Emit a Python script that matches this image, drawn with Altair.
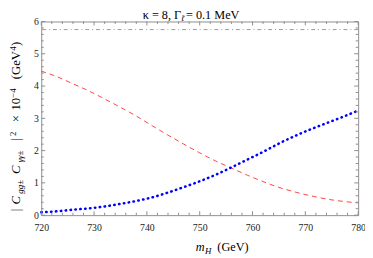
import altair as alt
import pandas as pd

# ---------------- data ----------------
m_h = [720, 723, 726, 729, 732, 735, 738, 741, 744, 747, 750,
       753, 756, 759, 762, 765, 768, 771, 774, 777, 780]
red_vals = [4.46, 4.29, 4.07, 3.85, 3.60, 3.34, 3.07, 2.77, 2.48, 2.20, 1.93,
            1.68, 1.46, 1.24, 1.04, 0.86, 0.72, 0.60, 0.50, 0.43, 0.38]
blue_vals = [0.09, 0.12, 0.17, 0.21, 0.27, 0.35, 0.44, 0.55, 0.70, 0.87, 1.05,
             1.25, 1.48, 1.72, 1.96, 2.22, 2.45, 2.66, 2.85, 3.04, 3.24]
gray_level = [5.75]

x_major = [720, 730, 740, 750, 760, 770, 780]
x_minor = [722, 724, 726, 728, 732, 734, 736, 738, 742, 744, 746, 748,
           752, 754, 756, 758, 762, 764, 766, 768, 772, 774, 776, 778]
y_major = [0, 1, 2, 3, 4, 5, 6]
y_minor = [0.2, 0.4, 0.6, 0.8, 1.2, 1.4, 1.6, 1.8, 2.2, 2.4, 2.6, 2.8,
           3.2, 3.4, 3.6, 3.8, 4.2, 4.4, 4.6, 4.8, 5.2, 5.4, 5.6, 5.8]

title_parts = ["κ = 8, Γ", "t̃", " = 0.1 MeV"]
xtitle_parts = ["m", "H", "(GeV)"]
ytitle_parts = ["|", "C", "gg±", "C", "γγ±", "|", "2", "×", "10", "−4", "(GeV", "4", ")"]

# ---------------- layout ----------------
W, H = 324, 198
SERIF = "Liberation Serif"
FRAME = "#8c8c8c"

df = pd.DataFrame({"m": m_h, "red": red_vals, "blue": blue_vals})

xs = alt.Scale(domain=[720, 780], nice=False, zero=False)
ys = alt.Scale(domain=[0, 6], nice=False, zero=False)

base = alt.Chart(df)

x_axis = alt.Axis(values=x_major, labelFont=SERIF, labelFontSize=10, labelColor="#222",
                  ticks=False, tickSize=0, domain=False, grid=False, title=None,
                  labelPadding=8, labelFlush=False, labelOverlap=False, format="d")
y_axis = alt.Axis(values=y_major, labelFont=SERIF, labelFontSize=10, labelColor="#222",
                  ticks=False, tickSize=0, domain=False, grid=False, title=None,
                  labelPadding=3, labelFlush=False, labelOverlap=False,
                  labelBaseline="middle", format="d")

red = base.mark_line(color="#ff2020", strokeWidth=1, strokeDash=[5, 4], opacity=0.85,
                     interpolate="monotone").encode(
    x=alt.X("m:Q", scale=xs, axis=x_axis),
    y=alt.Y("red:Q", scale=ys, axis=y_axis),
)
blue = base.mark_line(color="#0000ff", strokeWidth=2.6, strokeDash=[0.5, 4.5], strokeCap="round",
                      interpolate="monotone").encode(
    x=alt.X("m:Q", scale=xs, axis=x_axis),
    y=alt.Y("blue:Q", scale=ys, axis=y_axis),
)
gray = alt.Chart(pd.DataFrame({"v": gray_level})).mark_rule(
    color="#9a9a9a", strokeWidth=1, strokeDash=[4, 3, 1, 3]).encode(
    y=alt.Y("v:Q", scale=ys, axis=y_axis),
)


def xticks(vals, length):
    d = alt.Chart(pd.DataFrame({"v": vals}))
    b = d.mark_rule(color=FRAME, strokeWidth=1).encode(
        x=alt.X("v:Q", scale=xs, axis=x_axis), y=alt.value(H), y2=alt.value(H - length))
    t = d.mark_rule(color=FRAME, strokeWidth=1).encode(
        x=alt.X("v:Q", scale=xs, axis=x_axis), y=alt.value(0), y2=alt.value(length))
    return [b, t]


def yticks(vals, length):
    d = alt.Chart(pd.DataFrame({"v": vals}))
    l = d.mark_rule(color=FRAME, strokeWidth=1).encode(
        y=alt.Y("v:Q", scale=ys, axis=y_axis), x=alt.value(0), x2=alt.value(length))
    r = d.mark_rule(color=FRAME, strokeWidth=1).encode(
        y=alt.Y("v:Q", scale=ys, axis=y_axis), x=alt.value(W), x2=alt.value(W - length))
    return [l, r]


def txt(s, x, y, size, italic=False, angle=0, align="left"):
    return alt.Chart(pd.DataFrame({"t": [s]})).mark_text(
        font=SERIF, fontSize=size, fontStyle="italic" if italic else "normal",
        angle=angle, align=align, baseline="alphabetic", color="black").encode(
        x=alt.value(x), y=alt.value(y), text="t:N")


texts = []
# top title
texts.append(txt(title_parts[0], 143, -3, 12.5, align="right"))
texts.append(txt(title_parts[1], 143.5, 0, 9, italic=True))
texts.append(txt(title_parts[2], 148, -3, 12.5))
# x title
texts.append(txt(xtitle_parts[0], 158, 235, 12.5, italic=True))
texts.append(txt(xtitle_parts[1], 167.5, 238, 9, italic=True))
texts.append(txt(xtitle_parts[2], 180, 235, 12.5))

# y title (rotated); (start y in plot coords, baseline x, size, italic)
ypos = [(194, -22, 13, False), (187, -22, 13, True), (176, -19, 9, True),
        (156, -22, 13, True), (144, -19, 9, True), (122, -22, 13, False),
        (117, -26, 9, False), (103, -22, 13, False), (91, -22, 13, False),
        (78, -26, 9, False), (59, -22, 13, False), (30, -26, 9, False),
        (25, -22, 13, False)]
for s, (yy, xx, sz, it) in zip(ytitle_parts, ypos):
    texts.append(txt(s, xx, yy, sz, italic=it, angle=270))

layers = [gray, red, blue]
layers += xticks(x_major, 4) + xticks(x_minor, 2.5)
layers += yticks(y_major, 4) + yticks(y_minor, 2.5)
layers += texts

chart = alt.layer(*layers).properties(
    width=W, height=H,
    autosize=alt.AutoSizeParams(type="none"),
    padding={"left": 34, "top": 11, "right": 7, "bottom": 41},
).configure_view(stroke=FRAME, strokeWidth=1)

chart.save("out.html", embed_options={"renderer": "svg", "actions": False})
